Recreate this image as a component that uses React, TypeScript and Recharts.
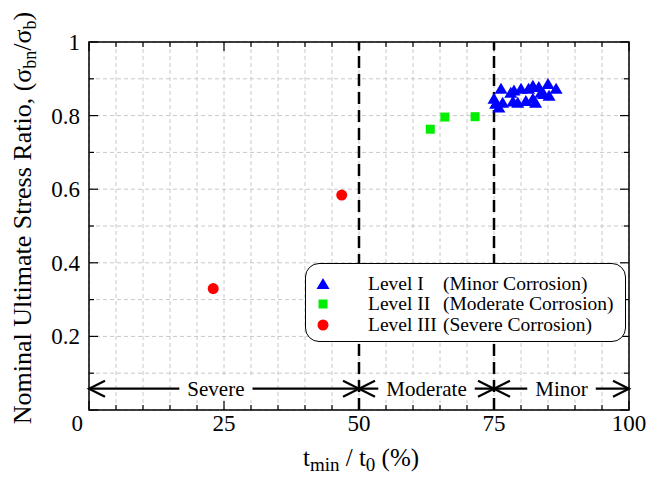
import {
  ScatterChart,
  Scatter,
  XAxis,
  YAxis,
  CartesianGrid,
  ReferenceLine,
  ReferenceArea,
  Legend,
} from "recharts";

// measured values
const level1X = [75.0, 75.3, 75.9, 76.3, 76.6, 78.1, 78.5, 78.7, 79.4, 80.0, 80.9, 81.4, 82.2, 82.2, 82.7, 83.3, 83.7, 84.2, 85.0, 85.2, 86.5];
const level1Y = [0.846, 0.832, 0.822, 0.873, 0.835, 0.862, 0.838, 0.868, 0.835, 0.873, 0.84, 0.873, 0.881, 0.846, 0.835, 0.878, 0.862, 0.859, 0.886, 0.854, 0.873];
const level2X = [63.2, 65.9, 71.5];
const level2Y = [0.763, 0.796, 0.797];
const level3X = [23.0, 46.8];
const level3Y = [0.33, 0.584];

const xTicks = [0, 5, 10, 15, 20, 25, 30, 35, 40, 45, 50, 55, 60, 65, 70, 75, 80, 85, 90, 95, 100];
const yTicks = [0, 0.1, 0.2, 0.3, 0.4, 0.5, 0.6, 0.7, 0.8, 0.9, 1];

const zoneStart = [0, 50, 75];
const zoneEnd = [50, 75, 100];
const zoneNames = ["Severe", "Moderate", "Minor"];
const zoneNameAt = [23.5, 62.5, 87.5];
const zoneArrowY = 0.058;
const zoneBounds = [50, 75];

const legendNames = ["Level I", "Level II", "Level III"];
const legendDescs = ["(Minor Corrosion)", "(Moderate Corrosion)", "(Severe Corrosion)"];

const FONT = "Liberation Serif, Times New Roman, Times, DejaVu Serif, serif";
const W = 647;
const H = 479;
const MARGIN = { top: 42, right: 18, bottom: 39, left: 0 };
const Y_W = 89;
const X_H = 30;
const PLOT_LEFT = MARGIN.left + Y_W;
const PLOT_RIGHT = W - MARGIN.right;
const PLOT_TOP = MARGIN.top;
const PLOT_BOTTOM = H - MARGIN.bottom - X_H;

const BLUE = "#0000ff";
const GREEN = "#00ee00";
const RED = "#ff0000";

const toPoints = (xs: number[], ys: number[]) => xs.map((x, i) => ({ x, y: ys[i] }));

let ctx: CanvasRenderingContext2D | null = null;
function textWidth(s: string, size: number) {
  if (!ctx) ctx = document.createElement("canvas").getContext("2d");
  if (!ctx) return s.length * size * 0.45;
  ctx.font = `${size}px ${FONT}`;
  return ctx.measureText(s).width;
}

function XTick({ x, payload }: any) {
  const v = payload.value as number;
  const major = v % 25 === 0;
  const len = major ? 9 : 5;
  return (
    <g>
      <line x1={x} x2={x} y1={PLOT_BOTTOM} y2={PLOT_BOTTOM - len} stroke="#000" strokeWidth={1.2} />
      <line x1={x} x2={x} y1={PLOT_TOP} y2={PLOT_TOP + len} stroke="#000" strokeWidth={1.2} />
      {major && (
        <text
          x={v === 0 ? x - 6 : x}
          y={PLOT_BOTTOM + 21}
          textAnchor={v === 0 ? "end" : "middle"}
          fontFamily={FONT}
          fontSize={23}
          fill="#000"
        >
          {v}
        </text>
      )}
    </g>
  );
}

function YTick({ y, payload }: any) {
  const v = payload.value as number;
  const major = Math.round(v * 10) % 2 === 0;
  const len = major ? 9 : 5;
  return (
    <g>
      <line x1={PLOT_LEFT} x2={PLOT_LEFT + len} y1={y} y2={y} stroke="#000" strokeWidth={1.2} />
      <line x1={PLOT_RIGHT - len} x2={PLOT_RIGHT} y1={y} y2={y} stroke="#000" strokeWidth={1.2} />
      {major && v !== 0 && (
        <text x={PLOT_LEFT - 9} y={y} dy="0.35em" textAnchor="end" fontFamily={FONT} fontSize={23} fill="#000">
          {v === 1 ? "1" : v.toFixed(1)}
        </text>
      )}
    </g>
  );
}

function YTitle() {
  const cx = 22;
  const cy = 218;
  return (
    <text
      x={cx}
      y={cy}
      transform={`rotate(-90, ${cx}, ${cy})`}
      textAnchor="middle"
      dy="0.35em"
      fontFamily={FONT}
      fontSize={26}
      fill="#000"
    >
      <tspan>Nominal Ultimate Stress Ratio, (σ</tspan>
      <tspan fontSize={18} dy={5}>bn</tspan>
      <tspan dy={-5}>/σ</tspan>
      <tspan fontSize={18} dy={5}>b</tspan>
      <tspan dy={-5}>)</tspan>
    </text>
  );
}

function XTitle() {
  return (
    <text x={(PLOT_LEFT + PLOT_RIGHT) / 2 + 2} y={466} textAnchor="middle" fontFamily={FONT} fontSize={25} fill="#000">
      <tspan>t</tspan>
      <tspan fontSize={19} dy={5}>min</tspan>
      <tspan dy={-5}> / t</tspan>
      <tspan fontSize={19} dy={5}>0</tspan>
      <tspan dy={-5}> (%)</tspan>
    </text>
  );
}

const triangle = ({ cx, cy }: any) => (
  <polygon points={`${cx},${cy - 6} ${cx - 6.5},${cy + 5} ${cx + 6.5},${cy + 5}`} fill={BLUE} />
);
const square = ({ cx, cy }: any) => <rect x={cx - 4.5} y={cy - 4.5} width={9} height={9} fill={GREEN} />;
const circle = ({ cx, cy }: any) => <circle cx={cx} cy={cy} r={5.5} fill={RED} />;

function zoneShape(i: number) {
  return (p: any) => {
    const { x1, y1, x2 } = p;
    const y = y1;
    const px = x1 + ((x2 - x1) * (zoneNameAt[i] - zoneStart[i])) / (zoneEnd[i] - zoneStart[i]);
    const w = textWidth(zoneNames[i], 21) + 16;
    const a = 16;
    const h = 8;
    return (
      <g>
        <line x1={x1} x2={x2} y1={y} y2={y} stroke="#000" strokeWidth={2.2} />
        <rect x={px - w / 2} y={y - 11} width={w} height={22} fill="#fff" />
        <text x={px} y={y + 7} textAnchor="middle" fontFamily={FONT} fontSize={21} fill="#000">
          {zoneNames[i]}
        </text>
        <polyline points={`${x1 + a},${y - h} ${x1},${y} ${x1 + a},${y + h}`} fill="none" stroke="#000" strokeWidth={2.2} />
        <polyline points={`${x2 - a},${y - h} ${x2},${y} ${x2 - a},${y + h}`} fill="none" stroke="#000" strokeWidth={2.2} />
      </g>
    );
  };
}

const legendMarkers = [
  <polygon key="t" points="7,1 0.5,12 13.5,12" fill={BLUE} />,
  <rect key="s" x={2.5} y={2.5} width={9} height={9} fill={GREEN} />,
  <circle key="c" cx={7} cy={7} r={5.5} fill={RED} />,
];

function LegendBox() {
  return (
    <div
      style={{
        position: "relative",
        width: 321,
        height: 79,
        boxSizing: "border-box",
        border: "1.5px solid #000",
        borderRadius: 14,
        background: "#fff",
        fontFamily: FONT,
        fontSize: 19.5,
        color: "#000",
      }}
    >
      {legendNames.map((name, i) => (
        <div key={name} style={{ position: "absolute", left: 0, top: 9.5 + i * 20.5, height: 20, lineHeight: "20px", width: "100%" }}>
          <svg width={14} height={14} style={{ position: "absolute", left: 10, top: 3 }}>
            {legendMarkers[i]}
          </svg>
          <span style={{ position: "absolute", left: 62, whiteSpace: "pre" }}>{name}</span>
          <span style={{ position: "absolute", left: 137, whiteSpace: "pre" }}>{legendDescs[i]}</span>
        </div>
      ))}
    </div>
  );
}

export default function App() {
  return (
    <div style={{ position: "absolute", left: 0, top: 0, width: W, height: H, background: "#fff" }}>
      <ScatterChart width={W} height={H} margin={MARGIN}>
        <CartesianGrid strokeDasharray="4 3" stroke="#c8c8c8" />
        <XAxis
          type="number"
          dataKey="x"
          domain={[0, 100]}
          ticks={xTicks}
          interval={0}
          height={X_H}
          axisLine={false}
          tickLine={false}
          tick={<XTick />}
          label={<XTitle />}
          allowDataOverflow
        />
        <YAxis
          type="number"
          dataKey="y"
          domain={[0, 1]}
          ticks={yTicks}
          interval={0}
          width={Y_W}
          axisLine={false}
          tickLine={false}
          tick={<YTick />}
          label={<YTitle />}
          allowDataOverflow
        />
        <ReferenceArea x1={0} x2={100} y1={0} y2={1} fill="none" fillOpacity={0} stroke="#000" strokeWidth={1.5} />
        {zoneBounds.map((b) => (
          <ReferenceLine key={b} x={b} stroke="#000" strokeWidth={2.5} strokeDasharray="12 6" />
        ))}
        {zoneNames.map((n, i) => (
          <ReferenceLine
            key={n}
            segment={[
              { x: zoneStart[i], y: zoneArrowY },
              { x: zoneEnd[i], y: zoneArrowY },
            ]}
            shape={zoneShape(i)}
          />
        ))}
        <Scatter data={toPoints(level2X, level2Y)} shape={square} isAnimationActive={false} />
        <Scatter data={toPoints(level3X, level3Y)} shape={circle} isAnimationActive={false} />
        <Scatter data={toPoints(level1X, level1Y)} shape={triangle} isAnimationActive={false} />
        <Legend
          layout="vertical"
          align="center"
          verticalAlign="middle"
          content={() => <LegendBox />}
          wrapperStyle={{ position: "absolute", left: 305, top: 263, width: 321, height: 79 }}
        />
      </ScatterChart>
    </div>
  );
}
